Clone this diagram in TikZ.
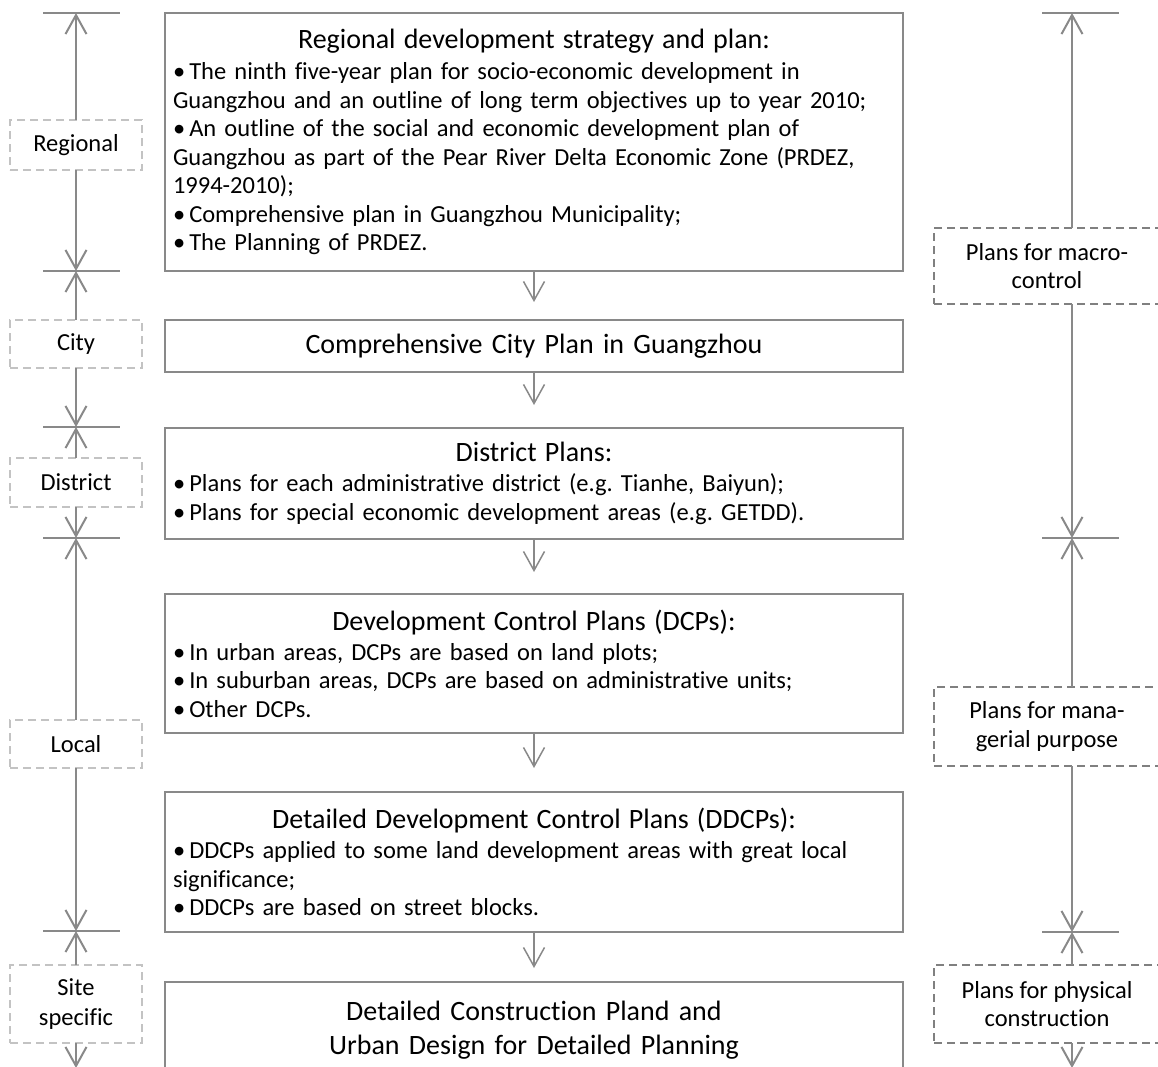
\documentclass[tikz,border=0pt]{standalone}
\usepackage{fontspec}
\setmainfont{Carlito}[Ligatures=NoCommon]
\usetikzlibrary{arrows.meta}
\definecolor{lc}{RGB}{137,137,137}
\definecolor{lb}{RGB}{195,195,195}
\definecolor{rb}{RGB}{128,128,128}
\newcommand\bfnt{\fontsize{24.5}{28.5}\selectfont\frenchspacing}
\newcommand\tfnt{\fontsize{28}{28.5}\selectfont\frenchspacing}
\begin{document}
\begin{tikzpicture}[x=1pt,y=-1pt,
  mainbox/.style={draw=lc, line width=2pt, outer sep=0pt, inner xsep=8pt, inner ysep=0pt,
    minimum width=738pt, text width=722pt, align=left, anchor=north west, font=\bfnt},
  lvl/.style={draw=lb, dash pattern=on 8pt off 5pt, line width=1.5pt, minimum width=132pt,
    align=center, font=\bfnt, outer sep=0pt, inner sep=0pt},
  rlvl/.style={draw=rb, dash pattern=on 8pt off 5pt, line width=1.5pt, minimum width=226pt,
    align=center, font=\bfnt, outer sep=0pt, inner sep=0pt},
  flow/.style={draw=lc, line width=1.5pt, -{Straight Barb[length=19pt,width=21pt]}},
  dim/.style={draw=lc, line width=2pt, -{Straight Barb[length=19pt,width=21pt]}},
  tickline/.style={draw=lc, line width=2pt}
]
\useasboundingbox (0,0) rectangle (1158,1066);
\clip (0,0) rectangle (1158,1066);

% main boxes
\node[mainbox, minimum height=258pt] (b1) at (165,13) {%
\makebox[722pt]{\tfnt Regional development strategy and plan:}\\[2.5pt]
\textbullet\,The ninth five-year plan for socio-economic development in\\
Guangzhou and an outline of long term objectives up to year 2010;\\
\textbullet\,An outline of the social and economic development plan of\\
Guangzhou as part of the Pear River Delta Economic Zone (PRDEZ,\\
1994-2010);\\
\textbullet\,Comprehensive plan in Guangzhou Municipality;\\
\textbullet\,The Planning of PRDEZ.};

\node[mainbox, align=center, minimum height=52pt, font=\tfnt] (b2) at (165,320) {Comprehensive City Plan in Guangzhou};

\node[mainbox, minimum height=111pt] (b3) at (165,428) {%
\makebox[722pt]{\tfnt District Plans:}\\[1.5pt]
\textbullet\,Plans for each administrative district (e.g. Tianhe, Baiyun);\\
\textbullet\,Plans for special economic development areas (e.g. GETDD).};

\node[mainbox, minimum height=139pt] (b4) at (165,594) {%
\makebox[722pt]{\tfnt Development Control Plans (DCPs):}\\[1.5pt]
\textbullet\,In urban areas, DCPs are based on land plots;\\
\textbullet\,In suburban areas, DCPs are based on administrative units;\\
\textbullet\,Other DCPs.};

\node[mainbox, minimum height=140pt] (b5) at (165,792) {%
\makebox[722pt]{\tfnt Detailed Development Control Plans (DDCPs):}\\[1.5pt]
\textbullet\,DDCPs applied to some land development areas with great local\\
significance;\\
\textbullet\,DDCPs are based on street blocks.};

\node[mainbox, align=center, minimum height=96pt, font=\fontsize{28}{34}\selectfont] (b6) at (165,982) {Detailed Construction Pland and\\Urban Design for Detailed Planning};

\draw[flow, shorten >=18pt] (b1.south) -- (b2.north);
\draw[flow, shorten >=23pt] (b2.south) -- (b3.north);
\draw[flow, shorten >=22pt] (b3.south) -- (b4.north);
\draw[flow, shorten >=24pt] (b4.south) -- (b5.north);
\draw[flow, shorten >=14pt] (b5.south) -- (b6.north);

% left scale
\node[lvl, minimum height=50pt] (reg) at (76,145) {Regional};
\node[lvl, minimum height=48pt] (city) at (76,344) {City};
\node[lvl, minimum height=49pt] (dist) at (76,482.5) {District};
\node[lvl, minimum height=48pt] (loc) at (76,744) {Local};
\node[lvl, minimum height=78pt, font=\fontsize{24.5}{30}\selectfont] (site) at (76,1004) {Site\\specific};

\coordinate (lt0) at (76,13);
\coordinate (lt1) at (76,271);
\coordinate (lt2) at (76,427);
\coordinate (lt3) at (76,538);
\coordinate (lt4) at (76,931);
\coordinate (lend) at (76,1068);
\foreach \c in {lt0,lt1,lt2,lt3,lt4}
  \draw[tickline] ([xshift=-33pt]\c) -- ([xshift=44pt]\c);

\draw[dim] (reg.north) -- (lt0);
\draw[dim] (reg.south) -- (lt1);
\draw[dim] (city.north) -- (lt1);
\draw[dim] (city.south) -- (lt2);
\draw[dim] (dist.north) -- (lt2);
\draw[dim] (dist.south) -- (lt3);
\draw[dim] (loc.north) -- (lt3);
\draw[dim] (loc.south) -- (lt4);
\draw[dim] (site.north) -- (lt4);
\draw[dim] (site.south) -- (lend);

% right scale
\node[rlvl, minimum height=76pt] (macro) at (1047,266) {Plans for macro-\\control};
\node[rlvl, minimum height=79pt] (mana) at (1047,726.5) {Plans for mana-\\gerial purpose};
\node[rlvl, minimum height=78pt] (phys) at (1047,1004) {Plans for physical\\construction};

\coordinate (rt0) at (1072,13);
\coordinate (rt1) at (1072,538);
\coordinate (rt2) at (1072,932);
\coordinate (rend) at (1072,1068);
\foreach \c in {rt0,rt1,rt2}
  \draw[tickline] ([xshift=-30pt]\c) -- ([xshift=47pt]\c);

\draw[dim] (macro.north -| rt0) -- (rt0);
\draw[dim] (macro.south -| rt0) -- (rt1);
\draw[dim] (mana.north -| rt0) -- (rt1);
\draw[dim] (mana.south -| rt0) -- (rt2);
\draw[dim] (phys.north -| rt0) -- (rt2);
\draw[dim] (phys.south -| rt0) -- (rend);
\end{tikzpicture}
\end{document}
